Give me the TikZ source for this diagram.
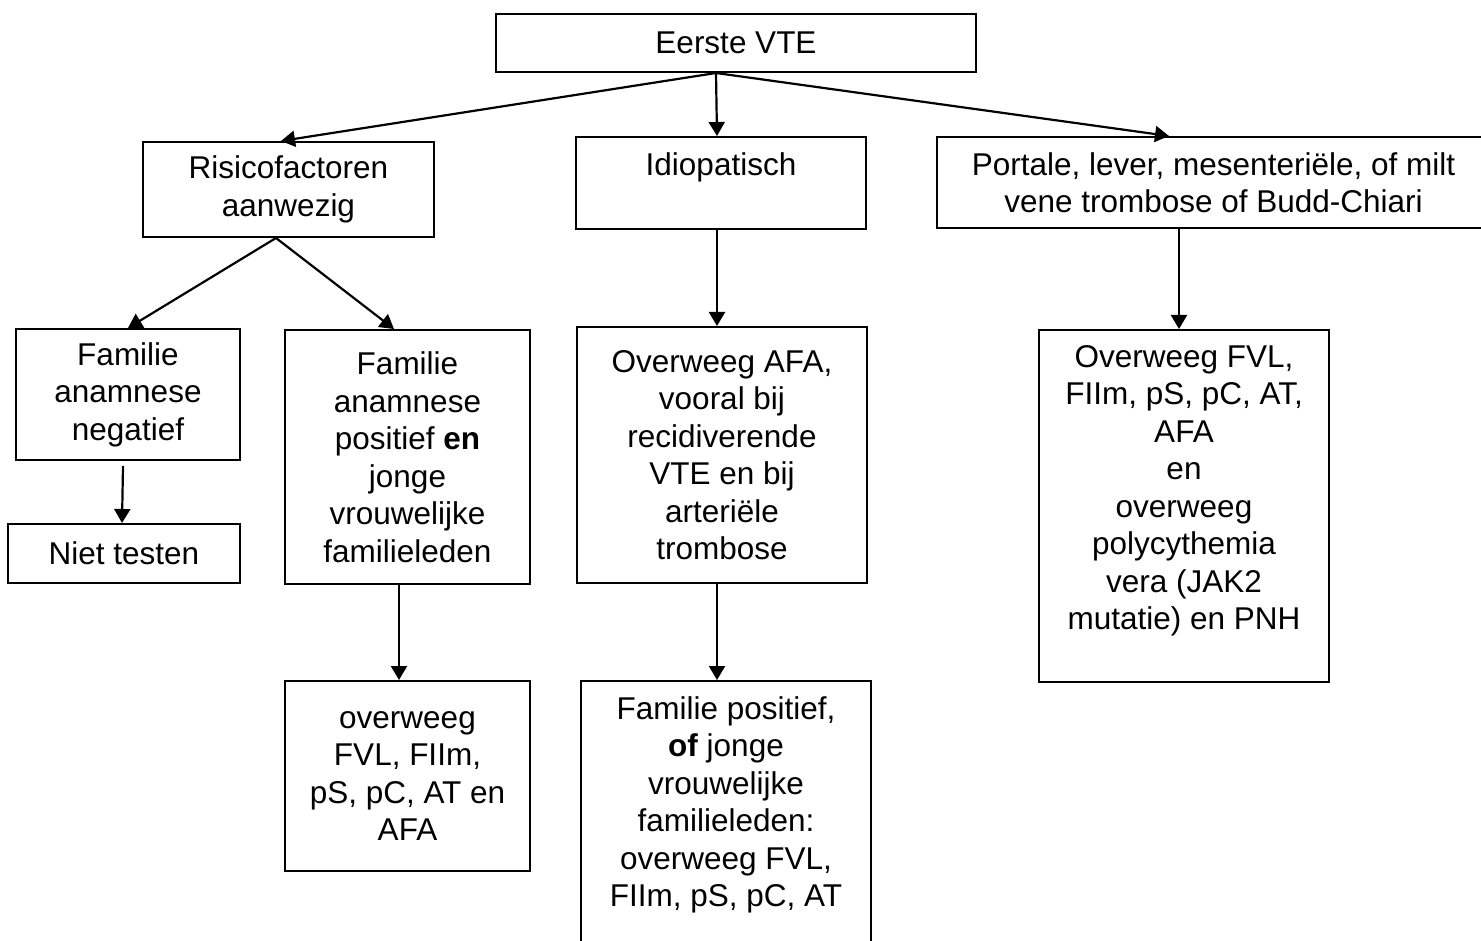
\documentclass[tikz,border=0pt]{standalone}
\usepackage{fontspec}
\setmainfont{Liberation Sans}
\usetikzlibrary{arrows.meta}
\begin{document}
\begin{tikzpicture}[x=1pt,y=-1pt,
  box/.style={draw, line width=2pt, inner sep=0pt, align=center, font=\fontsize{31.5}{37.5}\selectfont},
  arr/.style={line width=2.2pt, -{Triangle[length=14pt,width=16pt]}}]
\useasboundingbox (0,0) rectangle (1481,941);
\clip (0,0) rectangle (1481,941);
\node[box, minimum width=480pt, minimum height=58pt] (eerste) at (736,43) {Eerste VTE};
\node[box, minimum width=291pt, minimum height=95pt] (risico) at (288.5,189.5) {Risicofactoren\\aanwezig};
\node[box, minimum width=290pt, minimum height=92pt] (idio) at (721,183) {Idiopatisch\\\mbox{}};
\node[box, minimum width=553pt, minimum height=91pt] (portale) at (1213.5,182.5) {Portale, lever, mesenteriële, of milt\\vene trombose of Budd-Chiari};
\node[box, minimum width=224pt, minimum height=131pt] (famneg) at (128,394.5) {Familie\\anamnese\\negatief};
\node[box, minimum width=232pt, minimum height=59pt] (niet) at (124,553.5) {Niet testen};
\node[box, minimum width=245pt, minimum height=254pt] (fampos) at (407.5,457) {Familie\\anamnese\\positief \textbf{en}\\jonge\\vrouwelijke\\familieleden};
\node[box, minimum width=290pt, minimum height=256pt] (afa) at (722,455) {Overweeg AFA,\\vooral bij\\recidiverende\\VTE en bij\\arteriële\\trombose};
\node[box, minimum width=290pt, minimum height=352pt] (rechts) at (1184,506) {Overweeg FVL,\\FIIm, pS, pC, AT,\\AFA\\en\\overweeg\\polycythemia\\vera (JAK2\\mutatie) en PNH\\\mbox{}};
\node[box, minimum width=245pt, minimum height=190pt] (ovlinks) at (407.5,776) {overweeg\\FVL, FIIm,\\pS, pC, AT en\\AFA};
\node[box, minimum width=290pt, minimum height=279pt] (fammid) at (726,820.5) {Familie positief,\\\textbf{of} jonge\\vrouwelijke\\familieleden:\\overweeg FVL,\\FIIm, pS, pC, AT\\\mbox{}};
\draw[arr] ([xshift=-20pt]eerste.south) -- ([xshift=-7.5pt]risico.north);
\draw[arr] ([xshift=-20pt]eerste.south) -- ([xshift=-4pt]idio.north);
\draw[arr] ([xshift=-20pt]eerste.south) -- ([xshift=-44.5pt]portale.north);
\draw[arr] ([xshift=-12.5pt]risico.south) -- (famneg.north);
\draw[arr] ([xshift=-12.5pt]risico.south) -- ([xshift=-13.5pt]fampos.north);
\draw[arr] ([xshift=-5pt,yshift=-5pt]famneg.south) -- ([xshift=-2pt]niet.north);
\draw[arr] ([xshift=-8.5pt]fampos.south) -- ([xshift=-8.5pt]ovlinks.north);
\draw[arr] ([xshift=-4pt]idio.south) -- ([xshift=-5pt]afa.north);
\draw[arr] ([xshift=-5pt]afa.south) -- ([xshift=-9pt]fammid.north);
\draw[arr] ([xshift=-34.5pt]portale.south) -- ([xshift=-5pt]rechts.north);
\end{tikzpicture}
\end{document}
